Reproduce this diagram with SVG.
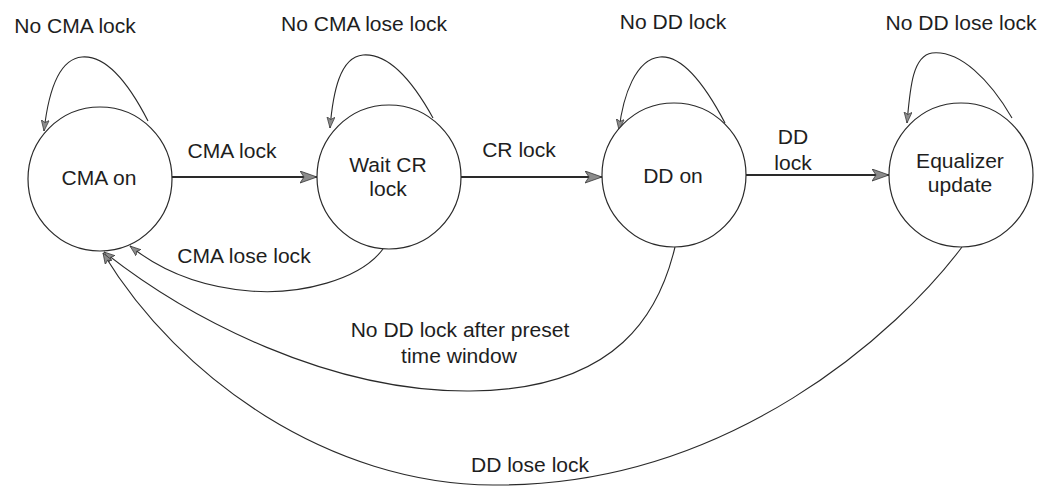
<svg xmlns="http://www.w3.org/2000/svg" width="1041" height="488" viewBox="0 0 1041 488">
  <style>
    .state { fill: #ffffff; stroke: #2a2a2a; stroke-width: 1.2; }
    .edge { fill: none; stroke: #2a2a2a; stroke-width: 1.1; }
    .edge-main { fill: none; stroke: #2a2a2a; stroke-width: 2; }
    /* labels use a slightly widened sans face */
    text { font-family: "Liberation Sans", Arial, sans-serif; font-size: 19.5px; fill: #1e1e1e; text-anchor: middle; }
  </style>
  <defs>
    <marker id="head-big" markerUnits="userSpaceOnUse" markerWidth="18" markerHeight="13" refX="17" refY="6.5" orient="auto">
      <path d="M0,0.5 L17,6.5 L0,12.5 L4,6.5 z" fill="#8c8c8c" stroke="#333333" stroke-width="0.8"/>
    </marker>
    <marker id="head-small" markerUnits="userSpaceOnUse" markerWidth="12" markerHeight="9" refX="11" refY="4.5" orient="auto">
      <path d="M0,0.5 L11,4.5 L0,8.5 L2.5,4.5 z" fill="#8c8c8c" stroke="#333333" stroke-width="0.7"/>
    </marker>
  </defs>
  <rect width="1041" height="488" fill="#ffffff"/>

  <!-- transitions -->
  <g id="connectors">
    <!-- self loops -->
    <path class="edge" d="M148,121 C128,82 106,55 82,57 C58,59 48,95 44,131" marker-end="url(#head-small)"/>
    <path class="edge" d="M433,118 C412,80 388,53 363,55 C340,57 333,92 330,128" marker-end="url(#head-small)"/>
    <path class="edge" d="M725,123 C705,85 683,55 660,57 C636,59 623,95 619,130" marker-end="url(#head-small)"/>
    <path class="edge" d="M1012,118 C990,80 960,50 932,53 C912,56 910,90 907,123" marker-end="url(#head-small)"/>

    <!-- forward transitions -->
    <path class="edge-main" d="M172,177 L317,177" marker-end="url(#head-big)"/>
    <path class="edge-main" d="M461,177 L602,177" marker-end="url(#head-big)"/>
    <path class="edge-main" d="M746,175 L889,175" marker-end="url(#head-big)"/>

    <!-- return transitions -->
    <path class="edge" d="M383,249 C360,280 300,295 250,291 C200,287 160,270 130,246" marker-end="url(#head-small)"/>
    <path class="edge" d="M675,247 C660,310 620,390 470,391 C330,392 190,320 104,252" marker-end="url(#head-small)"/>
    <path class="edge" d="M962,247 C900,330 730,487 493,485 C330,484 180,380 103,253" marker-end="url(#head-small)"/>
  </g>

  <!-- transition labels -->
  <g id="labels">
    <text transform="translate(75,33) scale(1.08,1)">No CMA lock</text>
    <text transform="translate(364,31) scale(1.08,1)">No CMA lose lock</text>
    <text transform="translate(673,29) scale(1.08,1)">No DD lock</text>
    <text transform="translate(961,30) scale(1.08,1)">No DD lose lock</text>
    <text transform="translate(232,158) scale(1.08,1)">CMA lock</text>
    <text transform="translate(519,157) scale(1.08,1)">CR lock</text>
    <text transform="translate(793,144) scale(1.08,1)">DD</text>
    <text transform="translate(793,170) scale(1.08,1)">lock</text>
    <text transform="translate(244,263) scale(1.08,1)">CMA lose lock</text>
    <text transform="translate(460,337) scale(1.08,1)">No DD lock after preset</text>
    <text transform="translate(459,363) scale(1.08,1)">time window</text>
    <text transform="translate(530,472) scale(1.08,1)">DD lose lock</text>
  </g>

  <!-- states -->
  <g id="state-cma-on">
    <circle class="state" cx="100" cy="179" r="72"/>
    <text transform="translate(99,185) scale(1.08,1)">CMA on</text>
  </g>
  <g id="state-wait-cr-lock">
    <circle class="state" cx="389" cy="177" r="72"/>
    <text transform="translate(388,172) scale(1.08,1)">Wait CR</text>
    <text transform="translate(388,196) scale(1.08,1)">lock</text>
  </g>
  <g id="state-dd-on">
    <circle class="state" cx="674" cy="175" r="72"/>
    <text transform="translate(673,183) scale(1.08,1)">DD on</text>
  </g>
  <g id="state-equalizer-update">
    <circle class="state" cx="961" cy="175" r="72"/>
    <text transform="translate(960,168) scale(1.08,1)">Equalizer</text>
    <text transform="translate(960,192) scale(1.08,1)">update</text>
  </g>
</svg>
